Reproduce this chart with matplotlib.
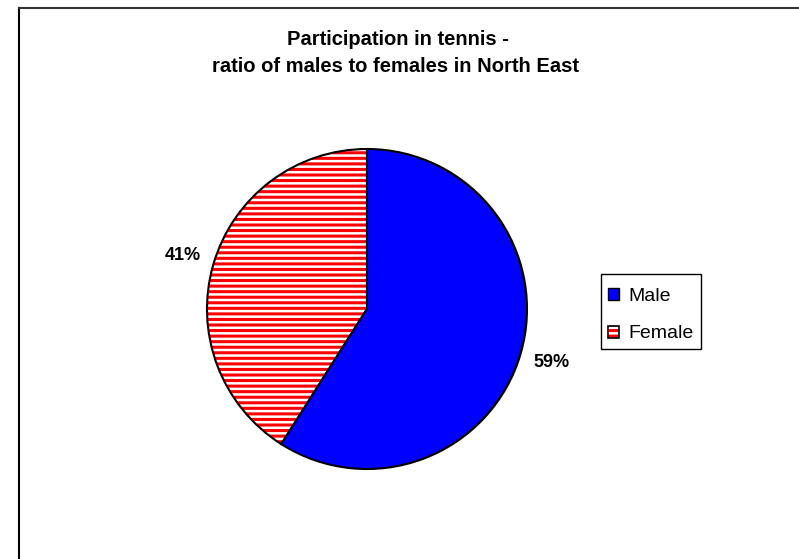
import matplotlib
matplotlib.use('Agg')
import matplotlib.pyplot as plt
from matplotlib.patches import Patch, Rectangle
from matplotlib.lines import Line2D
from matplotlib.legend_handler import HandlerTuple

plt.rcParams['font.family'] = ['Liberation Sans', 'DejaVu Sans']
plt.rcParams['hatch.linewidth'] = 2.2

labels = ['Male', 'Female']
values = [59, 41]
colors = ['#0000FF', 'white']
hatches = ['', '---']

W, H = 799, 559
fig = plt.figure(figsize=(W / 100, H / 100), dpi=100)

# frame (only left and top edges are visible in the picture)
fig.add_artist(Line2D([18.5 / W, 18.5 / W], [0, 1 - 8 / H], transform=fig.transFigure,
                      color='black', lw=1.5))
fig.add_artist(Line2D([18.5 / W, 1], [1 - 8 / H, 1 - 8 / H], transform=fig.transFigure,
                      color='#333333', lw=1.5))

ax = fig.add_axes([207 / W, (H - 469) / H, 320 / W, 320 / H])
wedges, texts, autotexts = ax.pie(
    values, colors=colors, startangle=90, counterclock=False,
    autopct='%1.0f%%', pctdistance=1.2, hatch=hatches,
    wedgeprops=dict(linewidth=0),
    textprops=dict(fontsize=13, fontweight='bold'))
wedges[1].set_edgecolor('red')
wedges[1].set_linewidth(0)
wedges[0].set_edgecolor('#0000FF')

# black outline over the wedges
ax.pie(values, startangle=90, counterclock=False,
       wedgeprops=dict(fill=False, edgecolor='black', linewidth=1.5))
ax.set_xlim(-1, 1)
ax.set_ylim(-1, 1)

fig.text(398 / W, 1 - 45 / H, 'Participation in tennis -', ha='center', va='baseline',
         fontsize=14.5, fontweight='bold')
fig.text(396 / W, 1 - 72 / H, 'ratio of males to females in North East', ha='center',
         va='baseline', fontsize=14.5, fontweight='bold')

# legend box
fig.add_artist(Rectangle((601 / W, 1 - 349 / H), 100 / W, 75 / H, transform=fig.transFigure,
                         facecolor='white', edgecolor='black', linewidth=1))

male_h = Patch(facecolor='#0000FF', edgecolor='black', linewidth=1)
fem_h = (Patch(facecolor='white', edgecolor='red', hatch='---', linewidth=0),
         Patch(fill=False, edgecolor='black', linewidth=1.2))
leg = fig.legend([male_h, fem_h], labels, loc='upper left',
                 bbox_to_anchor=(601 / W, 1 - 281 / H), fontsize=14,
                 handler_map={tuple: HandlerTuple(ndivide=1, pad=0)},
                 handlelength=0.57, handleheight=0.57, handletextpad=0.5,
                 labelspacing=1.06, borderpad=0.35, borderaxespad=0,
                 frameon=False)

fig.savefig('out.png', dpi=100)
